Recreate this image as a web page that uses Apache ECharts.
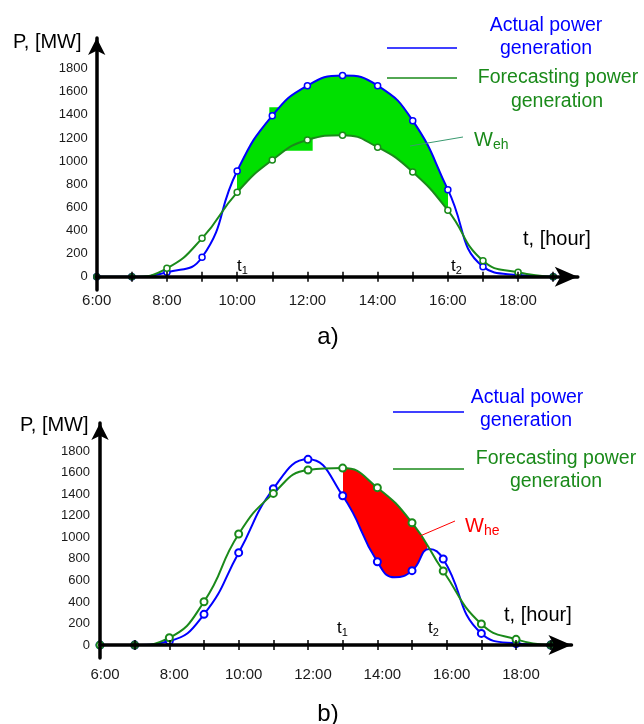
<!DOCTYPE html>
<html><head><meta charset="utf-8">
<script src="https://cdn.jsdelivr.net/npm/echarts@6/dist/echarts.min.js"></script>
<style>html,body{margin:0;padding:0;background:#fff}#c{width:644px;height:724px}</style>
</head><body><div id="c"></div>
<script>
// ---- data (a) ----
const hoursA = [6,7,8,9,10,11,12,13,14,15,16,17,18,19];
const actualA = [0,0,38,168,915,1393,1653,1740,1653,1350,753,87,15,0];
const forecastA = [0,0,73,332,730,1010,1183,1224,1120,906,574,138,38,0];
// ---- data (b) ----
const hoursActualB = [6,7,8,9,10,11,12,13,14,14.5,15,15.5,15.9,17,18,19];
const actualB = [0,0,37,285,857,1450,1723,1385,773,628,690,891,798,108,15,0];
const unmarkedActualB = [14.5,15.5];
const hoursForecastB = [6,7,8,9,10,11,12,13,14,15,15.9,17,18,19];
const forecastB = [0,0,68,402,1030,1407,1624,1642,1460,1135,687,195,53,0];
// ---- axes ----
const yTickValues = [0,200,400,600,800,1000,1200,1400,1600,1800];
const xLabelHours = [6,8,10,12,14,16,18];
const xTickHours = [7,8,9,10,11,12,13,14,15,16,17,18,19];
const fillRangeA = [10,16];
const fillRangeB = [13,15.42];
const extraRectA = [[10.915,1466],[12.15,1090]];
const darkA = [6,7,19];
const darkB = [7,19];

const BLUE = '#0000ff', GREEN = '#1a8a1a', DARK = '#17602a', FILLG = '#00e000', RED = '#ff0000';
const FONT = 'Liberation Sans, Arial, sans-serif';

function pts(xs, ys, dark, hidden) {
  return xs.map((x, i) => {
    const it = { value: [x, ys[i]] };
    if (hidden && hidden.indexOf(x) >= 0) it.symbol = 'none';
    if (dark && dark.indexOf(x) >= 0) it.itemStyle = { color: DARK, borderColor: DARK };
    return it;
  });
}
const pairs = (xs, ys) => xs.map((x, i) => [x, ys[i]]);

const chart = echarts.init(document.getElementById('c'), null, { renderer: 'canvas' });

function xAxes(grid, max, margin, pad, zeroOffset) {
  const base = {
    gridIndex: grid, type: 'value', min: 6, max: max, z: 6,
    splitLine: { show: false },
  };
  return [
    Object.assign({}, base, {
      axisLine: { show: true, onZero: true, lineStyle: { color: '#000', width: 3.5 },
        symbol: ['none', 'arrow'], symbolSize: [15, 23] },
      axisTick: { show: true, customValues: xTickHours, length: 5, lineStyle: { color: '#000', width: 1.5 } },
      axisLabel: { show: true, customValues: xLabelHours, formatter: v => v + ':00', margin: margin,
        fontSize: 15, color: '#1a1a1a', fontFamily: FONT, padding: pad }
    }),
    Object.assign({}, base, {
      position: 'bottom', offset: zeroOffset,
      axisLine: { show: false, onZero: false },
      axisTick: { show: true, inside: true, customValues: xTickHours, length: 5, lineStyle: { color: '#000', width: 1.5 } },
      axisLabel: { show: false }
    })
  ];
}
function yAxis(grid, min, max, margin) {
  return {
    gridIndex: grid, type: 'value', min: min, max: max, z: 6,
    splitLine: { show: false },
    axisLine: { show: true, onZero: false, lineStyle: { color: '#000', width: 3.5 },
      symbol: ['none', 'arrow'], symbolSize: [13, 17] },
    axisTick: { show: false },
    axisLabel: { show: true, customValues: yTickValues, formatter: v => String(v), margin: margin,
      fontSize: 13, color: '#1a1a1a', fontFamily: FONT }
  };
}
function lineSeries(xi, yi, data, color, bw, size) {
  return {
    type: 'line', xAxisIndex: xi, yAxisIndex: yi, data: data, smooth: 0.5, z: 5,
    symbol: 'circle', symbolSize: size, showSymbol: true,
    lineStyle: { color: color, width: 2 },
    itemStyle: { color: '#fff', borderColor: color, borderWidth: bw },
    emphasis: { disabled: true }, silent: true
  };
}
function fillSeries(xi, yi, data, z, extra) {
  return Object.assign({
    type: 'line', xAxisIndex: xi, yAxisIndex: yi, data: data, smooth: 0.5,
    showSymbol: false, symbol: 'none', z: z, silent: true,
    lineStyle: { opacity: 0, width: 0 }, areaStyle: { opacity: 1 }
  }, extra || {});
}
function vm(idx, range, color) {
  return { type: 'piecewise', show: false, dimension: 0, seriesIndex: idx,
    pieces: [{ gte: range[0], lte: range[1], color: color }], outOfRange: { color: 'rgba(255,255,255,0)' } };
}

const option = {
  animation: false,
  backgroundColor: '#fff',
  grid: [
    { left: 96.7, top: 38, width: 481.1, height: 252, containLabel: false, outerBoundsMode: 'none' },
    { left: 100, top: 423, width: 471.5, height: 235, containLabel: false, outerBoundsMode: 'none' }
  ],
  xAxis: [].concat(xAxes(0, 19.7, 3.5, [0,0,0,0], -13.3), xAxes(1, 19.6, 9.5, [0,0,0,10], -12.93)),
  yAxis: [yAxis(0, -115, 2065, 9), yAxis(1, -120, 2060, 10)],
  visualMap: [
    vm(2, fillRangeA, FILLG),
    vm(3, fillRangeA, '#ffffff'),
    vm(6, fillRangeB, RED),
    vm(7, fillRangeB, '#ffffff')
  ],
  series: [
    lineSeries(0, 0, pts(hoursA, actualA, null, null), BLUE, 1.5, 6),
    lineSeries(0, 0, pts(hoursA, forecastA, darkA, null), GREEN, 1.5, 6),
    fillSeries(0, 0, pairs(hoursA, actualA), 1),
    fillSeries(0, 0, pairs(hoursA, forecastA), 1.5, {
      markArea: { silent: true, z: 3, itemStyle: { color: FILLG, opacity: 1 }, label: { show: false },
        data: [[{ coord: extraRectA[0] }, { coord: extraRectA[1] }]] } }),
    lineSeries(2, 1, pts(hoursActualB, actualB, null, unmarkedActualB), BLUE, 2, 7),
    lineSeries(2, 1, pts(hoursForecastB, forecastB, darkB, null), GREEN, 2, 7),
    fillSeries(2, 1, pairs(hoursForecastB, forecastB), 1),
    fillSeries(2, 1, pairs(hoursActualB, actualB), 1.5)
  ],
  graphic: []
};

function txt(x, y, text, size, color, align, rich) {
  return { type: 'text', x: x, y: y, z: 50, silent: true,
    style: { text: text, fontSize: size, fontFamily: FONT, fill: color, align: align || 'left',
      verticalAlign: 'middle', rich: rich } };
}
function seg(x1, y1, x2, y2, color, w) {
  return { type: 'line', z: 50, silent: true, shape: { x1: x1, y1: y1, x2: x2, y2: y2 },
    style: { stroke: color, lineWidth: w } };
}
const subT = { s: { fontSize: 11, fontFamily: FONT, fill: '#000', padding: [9, 0, 0, 0] } };
const subW = (c) => ({ s: { fontSize: 14, fontFamily: FONT, fill: c, padding: [10, 0, 0, 0] } });

option.graphic = [
  // (a)
  txt(13, 42, 'P, [MW]', 20, '#000'),
  txt(523, 239, 't, [hour]', 20, '#000'),
  txt(237, 266, 't{s|1}', 17, '#000', 'left', subT),
  txt(451, 266, 't{s|2}', 17, '#000', 'left', subT),
  txt(328, 337, 'a)', 24, '#000', 'center'),
  seg(387, 48, 457, 48, BLUE, 1.5),
  txt(546, 26, 'Actual power', 19.5, BLUE, 'center'),
  txt(546, 49, 'generation', 19.5, BLUE, 'center'),
  seg(387, 78, 457, 78, GREEN, 1.5),
  txt(558, 78, 'Forecasting power', 19.5, GREEN, 'center'),
  txt(557, 102, 'generation', 19.5, GREEN, 'center'),
  seg(410, 146, 463, 137, '#3a9a70', 1),
  txt(474, 140, 'W{s|eh}', 20, GREEN, 'left', subW(GREEN)),
  // (b)
  txt(20, 425, 'P, [MW]', 20, '#000'),
  txt(504, 615, 't, [hour]', 20, '#000'),
  txt(337, 628, 't{s|1}', 17, '#000', 'left', subT),
  txt(428, 628, 't{s|2}', 17, '#000', 'left', subT),
  txt(328, 714, 'b)', 24, '#000', 'center'),
  seg(393, 412, 464, 412, BLUE, 1.5),
  txt(527, 398, 'Actual power', 19.5, BLUE, 'center'),
  txt(526, 421, 'generation', 19.5, BLUE, 'center'),
  seg(393, 469, 464, 469, GREEN, 1.5),
  txt(556, 459, 'Forecasting power', 19.5, GREEN, 'center'),
  txt(556, 482, 'generation', 19.5, GREEN, 'center'),
  seg(455, 521, 420, 536, RED, 1),
  txt(465, 526, 'W{s|he}', 20, RED, 'left', subW(RED))
];

chart.setOption(option);
</script></body></html>
